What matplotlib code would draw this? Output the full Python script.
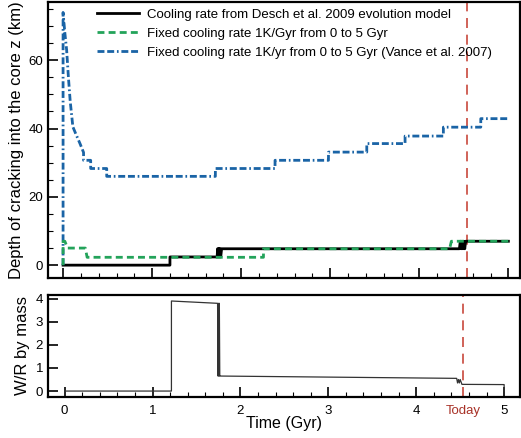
import numpy as np
import matplotlib
matplotlib.use("Agg")
import matplotlib.pyplot as plt
from matplotlib.ticker import MultipleLocator

plt.rcParams['font.family'] = ['Liberation Sans', 'DejaVu Sans']

# Desch et al. 2009 model (black)
t_desch = [0.0, 1.2, 1.2, 1.73, 1.735, 1.74, 1.745, 1.75, 1.755, 1.76, 1.765, 1.77, 1.78,
           4.45, 4.46, 4.47, 4.48, 4.49, 4.50, 4.51, 4.52, 4.53, 5.0]
z_desch = [0.0, 0.0, 2.4, 2.4, 4.8, 2.4, 4.8, 2.4, 4.8, 2.4, 4.8, 2.4, 4.8,
           4.8, 7.0, 4.8, 7.0, 4.8, 7.0, 4.8, 7.0, 7.0, 7.0]

# fixed cooling rate 1 K/Gyr (green)
t_slow = [0.0, 0.0, 0.02, 0.05, 0.05, 0.25, 0.27, 2.25, 2.25, 4.34, 4.36, 5.0]
z_slow = [0.0, 7.0, 7.0, 5.0, 5.0, 5.0, 2.3, 2.3, 4.8, 4.8, 7.0, 7.0]

# fixed cooling rate 1 K/yr, Vance et al. 2007 (blue)
t_fast = [0.0, 0.0, 0.02, 0.04, 0.06, 0.08, 0.11, 0.15, 0.19, 0.23, 0.23, 0.31, 0.31, 0.49, 0.49,
          1.71, 1.71, 2.38, 2.38, 2.98, 2.98, 3.41, 3.41, 3.84, 3.84, 4.27, 4.27, 4.69, 4.69, 5.0]
z_fast = [0.0, 74.0, 68.0, 63.0, 55.0, 48.0, 40.5, 38.0, 35.6, 33.0, 30.7, 30.7, 28.3, 28.3, 26.0,
          26.0, 28.3, 28.3, 30.7, 30.7, 33.1, 33.1, 35.6, 35.6, 37.8, 37.8, 40.4, 40.4, 42.9, 42.9]

# water/rock ratio
t_wr = [0.0, 1.215, 1.215, 1.74, 1.745, 1.75, 1.755, 1.76, 1.765, 1.77,
        4.46, 4.47, 4.48, 4.49, 4.50, 4.52, 5.0, 5.0]
wr = [0.0, 0.0, 3.9, 3.8, 0.65, 3.8, 0.65, 3.8, 0.65, 0.65,
      0.55, 0.35, 0.5, 0.35, 0.5, 0.29, 0.28, 0.0]

t_today = 4.53

fig = plt.figure(figsize=(5.21, 4.38), dpi=100)
ax1 = fig.add_axes([0.092, 0.365, 0.906, 0.630])
ax2 = fig.add_axes([0.092, 0.094, 0.906, 0.233])

ax1.plot(t_desch, z_desch, color='black', lw=2, label='Cooling rate from Desch et al. 2009 evolution model', zorder=3)
ax1.plot(t_slow, z_slow, color='#23a35a', lw=2, ls=(0, (2.5, 1.5)), label='Fixed cooling rate 1K/Gyr from 0 to 5 Gyr', zorder=4)
ax1.plot(t_fast, z_fast, color='#1a64a6', lw=2, ls=(0, (2.5, 1, 2.5, 1, 0.6, 1)),
         label='Fixed cooling rate 1K/yr from 0 to 5 Gyr (Vance et al. 2007)', zorder=3)
ax1.axvline(t_today, color='#c8483c', lw=1.2, ls=(0, (6, 4)), zorder=2)
ax1.set_xlim(-0.17, 5.13)
ax1.set_ylim(-3.8, 77)
ax1.set_yticks([0, 20, 40, 60])
ax1.yaxis.set_minor_locator(MultipleLocator(5))
ax1.xaxis.set_major_locator(MultipleLocator(1))
ax1.xaxis.set_minor_locator(MultipleLocator(0.2))
ax1.tick_params(axis='x', labelbottom=False)
ax1.set_ylabel('Depth of cracking into the core z (km)', fontsize=12, labelpad=3)
ax1.legend(loc='upper right', frameon=False, fontsize=9.5, handlelength=3.2,
           handletextpad=0.6, labelspacing=0.5, borderaxespad=0.1, bbox_to_anchor=(0.955, 1.0))

ax2.plot(t_wr, wr, color='#333333', lw=0.9)
ax2.axvline(t_today, color='#c8483c', lw=1.2, ls=(0, (6, 4)), zorder=2)
ax2.set_xlim(-0.19, 5.18)
ax2.set_ylim(-0.25, 4.17)
ax2.set_yticks([0, 1, 2, 3, 4])
ax2.set_xticks([0, 1, 2, 3, 4, t_today, 5])
ax2.set_xticklabels(['0', '1', '2', '3', '4', 'Today', '5'])
ax2.get_xticklabels()[5].set_color('#a83228')
ax2.get_xticklabels()[5].set_fontsize(12)
ax2.xaxis.set_minor_locator(MultipleLocator(0.2))
ax2.set_ylabel('W/R by mass', fontsize=12, labelpad=4)
ax2.set_xlabel('Time (Gyr)', fontsize=11.5, labelpad=-1)

for ax in (ax1, ax2):
    for s in ax.spines.values():
        s.set_linewidth(1.6)
    ax.tick_params(which='major', direction='in', length=7, width=1.2, labelsize=9.5)
    ax.tick_params(which='minor', direction='in', length=3.5, width=0.8)

ax2.tick_params(axis='x', which='major', pad=6)
ax2.xaxis.get_major_ticks()[5].tick1line.set_visible(False)

fig.savefig('out.png', dpi=100)
